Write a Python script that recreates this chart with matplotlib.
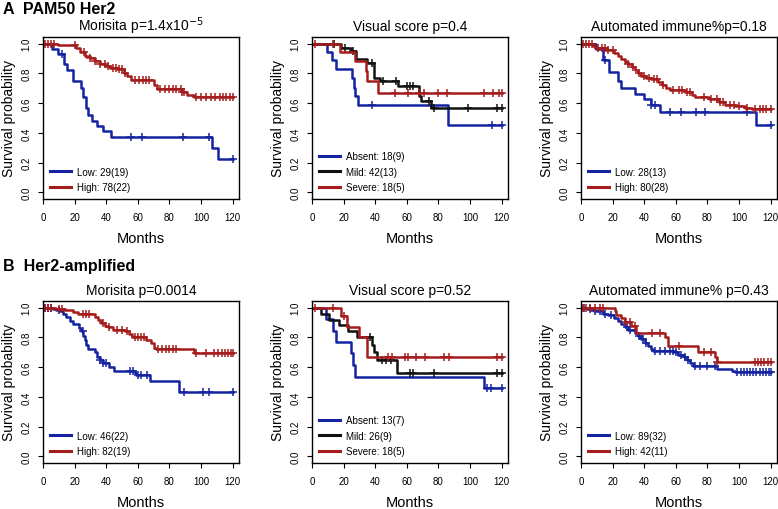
import matplotlib
matplotlib.use("Agg")
import matplotlib.pyplot as plt
import numpy as np

plt.rcParams['font.family'] = ['Liberation Sans', 'DejaVu Sans']

BLUE = '#1424a0'
RED = '#a51c1c'
BLACK = '#111111'

# ---- A1: PAM50 Her2, Morisita ----
a1_low_t = [5.5, 9.5, 13.5, 15, 19, 24, 25.5, 27, 28.5, 31, 34, 38, 43, 107, 110.5]
a1_low_s = [0.966, 0.93, 0.86, 0.82, 0.75, 0.70, 0.64, 0.57, 0.52, 0.48, 0.445, 0.41, 0.375, 0.30, 0.225]
a1_low_c = [12, 55.5, 62.5, 88.5, 105, 120]
a1_high_t = [9.6, 21, 23.4, 26.5, 29.7, 33, 36, 39.3, 42.5, 46.7, 51, 53, 55.5, 70, 72.2, 88, 91.3, 95.6]
a1_high_s = [0.99, 0.97, 0.945, 0.92, 0.905, 0.885, 0.865, 0.847, 0.838, 0.827, 0.80, 0.78, 0.753, 0.724, 0.692, 0.674, 0.652, 0.64]
a1_high_c = [1, 3, 5, 7, 20, 26, 30, 33, 36, 39, 41, 44, 46, 48, 50, 52, 58, 61, 63, 65, 67,
             74, 77, 80, 82, 84, 87, 88, 89, 97, 100, 103, 106, 109, 112, 114, 116, 118, 120]

# ---- A2: PAM50 Her2, Visual score ----
a2_abs_t = [9.5, 12.5, 15, 25, 26.5, 27.5, 29, 86]
a2_abs_s = [0.944, 0.889, 0.83, 0.77, 0.70, 0.65, 0.586, 0.456]
a2_abs_c = [38, 114, 120]
a2_mild_t = [18.5, 24.5, 27.6, 35, 39, 43, 54.5, 68, 69, 75.5]
a2_mild_s = [0.973, 0.95, 0.895, 0.87, 0.77, 0.75, 0.716, 0.645, 0.615, 0.57]
a2_mild_c = [14, 21, 26, 38, 45, 53, 60, 62, 64, 74, 77, 99, 117, 120]
a2_sev_t = [18, 27.5, 34, 35, 41.5]
a2_sev_s = [0.944, 0.884, 0.816, 0.75, 0.67]
a2_sev_c = [2, 13, 52.5, 61, 67.5, 71, 79.5, 85.7, 108.5, 114.8, 118, 120]

# ---- A3: PAM50 Her2, Automated immune% ----
a3_low_t = [9.5, 14, 18, 23.5, 25.5, 34, 40, 44, 50, 110.5]
a3_low_s = [0.964, 0.89, 0.81, 0.75, 0.705, 0.66, 0.625, 0.59, 0.54, 0.45]
a3_low_c = [15, 44.6, 46.7, 56, 63, 73, 78.6, 105, 120]
a3_high_t = [7.4, 9, 16, 19, 21, 23.4, 25.5, 27.6, 29.7, 32, 34, 36, 38, 41.4, 44.6, 49, 51, 54,
             56, 66, 70, 72, 81, 87, 91, 97.7, 104, 108]
a3_high_s = [0.985, 0.97, 0.96, 0.955, 0.94, 0.92, 0.90, 0.88, 0.86, 0.84, 0.82, 0.80, 0.785, 0.77,
             0.76, 0.74, 0.72, 0.70, 0.69, 0.675, 0.655, 0.64, 0.625, 0.61, 0.59, 0.58, 0.565, 0.56]
a3_high_c = [1, 3, 5, 7, 11, 13, 15, 17, 20, 30, 33, 37, 40, 43, 46, 48, 52, 58, 62, 64, 67, 69,
             78, 82, 86, 88, 90, 94, 97, 100, 105, 110, 113, 115, 117, 120]

# ---- B1: Her2-amplified, Morisita ----
b1_low_t = [6.3, 8.4, 11, 12.6, 14.3, 17, 19, 22.7, 24, 25.3, 26.3, 27.4, 28.4, 32.6, 34, 35.8,
            37.9, 42, 45, 58, 59, 67.4, 86.3]
b1_low_s = [0.99, 0.985, 0.975, 0.96, 0.94, 0.91, 0.89, 0.865, 0.84, 0.81, 0.78, 0.75, 0.72, 0.70,
            0.67, 0.65, 0.63, 0.60, 0.575, 0.56, 0.545, 0.51, 0.43]
b1_low_c = [1, 3, 5, 10, 25, 36, 38, 40, 55, 57, 60, 62, 66, 89, 101, 105, 120]
b1_high_t = [8.4, 13.7, 19, 22, 32.6, 34.7, 36.8, 39, 41, 44, 51.6, 54.7, 56, 65, 68.4, 70.5,
             71.6, 95.8]
b1_high_s = [0.99, 0.985, 0.97, 0.96, 0.94, 0.92, 0.90, 0.88, 0.87, 0.85, 0.84, 0.82, 0.80, 0.78,
             0.76, 0.73, 0.72, 0.695]
b1_high_c = [1, 3, 5, 10, 12, 25, 27, 29, 38, 42, 47, 50, 53, 58, 60, 62, 64, 73, 75, 78, 80,
             82, 84, 97, 103, 108, 111, 113, 115, 117, 119, 120]

# ---- B2: Her2-amplified, Visual score ----
b2_abs_t = [9, 13.5, 15, 24.5, 26, 27.5, 109]
b2_abs_s = [0.923, 0.846, 0.769, 0.692, 0.615, 0.535, 0.46]
b2_abs_c = [111, 113, 120]
b2_mild_t = [6, 11, 17, 23, 28.6, 38, 39, 41, 53.6]
b2_mild_s = [0.96, 0.92, 0.885, 0.84, 0.80, 0.75, 0.70, 0.65, 0.56]
b2_mild_c = [37, 44, 47, 50, 62, 64, 77, 117, 120]
b2_sev_t = [18.3, 22.4, 30, 35]
b2_sev_s = [0.944, 0.87, 0.80, 0.67]
b2_sev_c = [2, 13, 20, 48, 50.4, 58.7, 60.8, 66, 71.2, 83.7, 86.8, 117, 120]

# ---- B3: Her2-amplified, Automated immune% ----
b3_low_t = [4, 8.5, 11.7, 13.8, 17, 21, 23.4, 25.5, 27.6, 29.7, 34, 36, 38, 40.4, 42.5, 44.6,
            45.7, 58.4, 61.6, 65, 67, 69, 71, 86, 95.6, 97.7]
b3_low_s = [0.99, 0.98, 0.975, 0.96, 0.95, 0.93, 0.91, 0.89, 0.87, 0.85, 0.83, 0.81, 0.79, 0.76,
            0.74, 0.72, 0.71, 0.70, 0.68, 0.67, 0.65, 0.63, 0.61, 0.59, 0.575, 0.565]
b3_low_c = [2, 6, 9, 12, 15, 19, 29, 31, 37, 39, 41, 47, 50, 53, 56, 58, 60, 63, 66, 68, 72, 75,
            80, 85, 99, 101, 103, 105, 107, 109, 111, 113, 115, 117, 119, 120]
b3_high_t = [21.2, 22.3, 25.5, 27.6, 31.9, 35, 53, 55.2, 74, 85, 86]
b3_high_s = [0.975, 0.95, 0.93, 0.905, 0.88, 0.83, 0.80, 0.74, 0.70, 0.67, 0.635]
b3_high_c = [1, 3, 6, 9, 12, 14, 28, 31, 34, 45, 50, 62, 78, 82, 86, 110, 112, 114, 116, 118, 120]

panels = [
    (r'Morisita p=1.4x10$^{-5}$', [('Low: 29(19)', a1_low_t, a1_low_s, a1_low_c, BLUE),
                                   ('High: 78(22)', a1_high_t, a1_high_s, a1_high_c, RED)]),
    ('Visual score p=0.4', [('Absent: 18(9)', a2_abs_t, a2_abs_s, a2_abs_c, BLUE),
                            ('Mild: 42(13)', a2_mild_t, a2_mild_s, a2_mild_c, BLACK),
                            ('Severe: 18(5)', a2_sev_t, a2_sev_s, a2_sev_c, RED)]),
    ('Automated immune%p=0.18', [('Low: 28(13)', a3_low_t, a3_low_s, a3_low_c, BLUE),
                                 ('High: 80(28)', a3_high_t, a3_high_s, a3_high_c, RED)]),
    ('Morisita p=0.0014', [('Low: 46(22)', b1_low_t, b1_low_s, b1_low_c, BLUE),
                           ('High: 82(19)', b1_high_t, b1_high_s, b1_high_c, RED)]),
    ('Visual score p=0.52', [('Absent: 13(7)', b2_abs_t, b2_abs_s, b2_abs_c, BLUE),
                             ('Mild: 26(9)', b2_mild_t, b2_mild_s, b2_mild_c, BLACK),
                             ('Severe: 18(5)', b2_sev_t, b2_sev_s, b2_sev_c, RED)]),
    ('Automated immune% p=0.43', [('Low: 89(32)', b3_low_t, b3_low_s, b3_low_c, BLUE),
                                  ('High: 42(11)', b3_high_t, b3_high_s, b3_high_c, RED)]),
]

W, H = 778, 510
fig = plt.figure(figsize=(W / 100, H / 100), dpi=100)

lefts = [43, 312, 581]
tops = [38, 302]
aw, ah = 196, 162


def km_curve(ax, t, s, c, color):
    t = np.asarray(t, float)
    lev = np.concatenate([[1.0], s])
    end = max(max(c), t[-1])
    x = np.concatenate([[0], t, [end]])
    y = np.concatenate([lev, [lev[-1]]])
    ax.step(x, y, where='post', color=color, lw=1.8)
    cy = lev[np.searchsorted(t, c, side='right')]
    ax.plot(c, cy, ls='none', marker='+', ms=6, mew=1.1, color=color)


for i, (title, curves) in enumerate(panels):
    row, col = divmod(i, 3)
    ax = fig.add_axes([lefts[col] / W, 1 - (tops[row] + ah) / H, aw / W, ah / H])
    handles = []
    for label, t, s, c, color in curves:
        km_curve(ax, t, s, c, color)
        handles.append(plt.Line2D([], [], color=color, lw=2.2, label=label))
    ax.set_xlim(0, 124)
    ax.set_ylim(-0.045, 1.045)
    ax.set_xticks(np.arange(0, 121, 20))
    ax.set_yticks(np.arange(0, 1.01, 0.2))
    ax.set_yticklabels(['%.1f' % v for v in np.arange(0, 1.01, 0.2)], rotation=90, va='center')
    ax.tick_params(labelsize=7, length=3.5, width=0.8)
    ax.tick_params(axis='x', pad=6)
    ax.tick_params(axis='y', pad=5)
    for sp in ax.spines.values():
        sp.set_linewidth(1.0)
    ax.set_title(title, fontsize=10, pad=5)
    ax.set_xlabel('Months', fontsize=10.5, labelpad=6)
    ax.set_ylabel('Survival probability', fontsize=10, labelpad=4)
    ax.legend(handles=handles, loc='lower left', frameon=False, fontsize=7,
              handlelength=2.2, handletextpad=0.6, labelspacing=0.55,
              borderaxespad=0.4, borderpad=0.3)

fig.text(3 / W, 1 - 9 / H, 'A  PAM50 Her2', fontsize=11.5, fontweight='bold', va='center')
fig.text(3 / W, 1 - 267 / H, 'B  Her2-amplified', fontsize=11.5, fontweight='bold', va='center')

fig.savefig('out.png', dpi=100)
